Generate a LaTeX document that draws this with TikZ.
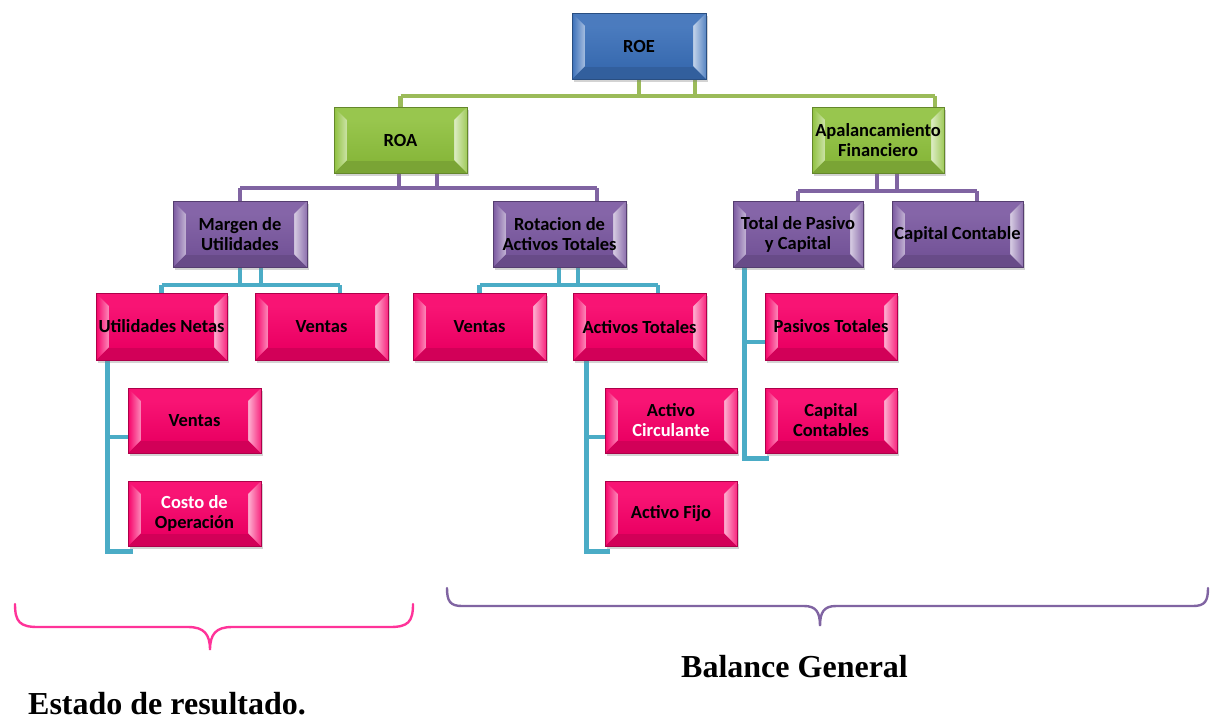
\documentclass[tikz,border=0pt]{standalone}
\usepackage{fontspec}
\setmainfont{Carlito}
\newfontfamily\tnr{Liberation Serif}
\usetikzlibrary{shadows}
\pgfdeclarelayer{bg}
\pgfsetlayers{bg,main}
\definecolor{roeblue}{HTML}{3B70B9}
\definecolor{boxgreen}{HTML}{8FC13E}
\definecolor{boxpurple}{HTML}{7A58A0}
\definecolor{boxpink}{HTML}{F70068}
\definecolor{lgreen}{HTML}{9BBB59}
\definecolor{lpurple}{HTML}{8064A2}
\definecolor{lcyan}{HTML}{4BACC6}
\definecolor{bpink}{HTML}{FF3399}
\tikzset{
  bev/.style={rectangle, minimum width=133pt, minimum height=66pt, inner sep=0pt,
    fill=#1, draw=#1!70!black, line width=0.6pt, align=center,
    font=\bfseries\fontsize{18.5}{20}\selectfont,
    drop shadow={shadow xshift=2pt, shadow yshift=-2.5pt, opacity=0.35},
    path picture={
      \coordinate (pNW) at (path picture bounding box.north west);
      \coordinate (pNE) at (path picture bounding box.north east);
      \coordinate (pSW) at (path picture bounding box.south west);
      \coordinate (pSE) at (path picture bounding box.south east);
      \coordinate (iNW) at ([shift={(13pt,-13pt)}]path picture bounding box.north west);
      \coordinate (iNE) at ([shift={(-13pt,-13pt)}]path picture bounding box.north east);
      \coordinate (iSW) at ([shift={(13pt,13pt)}]path picture bounding box.south west);
      \coordinate (iSE) at ([shift={(-13pt,13pt)}]path picture bounding box.south east);
      \fill[#1!92!white] (pNW) -- (pNE) -- (iNE) -- (iNW) -- cycle;
      \fill[#1!85!black] (pSW) -- (pSE) -- (iSE) -- (iSW) -- cycle;
      \shade[left color=#1, right color=#1!45!white] (pNW) -- (iNW) -- (iSW) -- (pSW) -- cycle;
      \shade[left color=#1!30!white, right color=#1!85!white] (iNE) -- (pNE) -- (pSE) -- (iSE) -- cycle;
      \shade[top color=#1!92!white, bottom color=#1!95!black] (iNW) rectangle (iSE);
    }},
  gcon/.style={draw=lgreen, line width=4.5pt},
  pcon/.style={draw=lpurple, line width=4.5pt},
  ccon/.style={draw=lcyan, line width=4.5pt},
  brc/.style={line width=2.4pt, line cap=round},
  lbl/.style={font=\tnr\bfseries\fontsize{32}{36}\selectfont, inner sep=0pt, anchor=base west}
}
\begin{document}
\begin{tikzpicture}[x=1pt,y=-1pt]
\useasboundingbox (0,0) rectangle (1217,721);
% bar levels
\coordinate (g1) at (0,96);
\coordinate (p1) at (0,188);
\coordinate (p2) at (0,191);
\coordinate (c1) at (0,285);

% boxes
\node[bev=roeblue, minimum width=134pt] (ROE) at (639,46) {ROE};
\node[bev=boxgreen] (ROA) at (400.5,140) {ROA};
\node[bev=boxgreen, minimum width=132pt] (AP) at (878,140) {Apalancamiento\\Financiero};
\node[bev=boxpurple, minimum width=134pt] (MU) at (240,234) {Margen de\\Utilidades};
\node[bev=boxpurple] (RAT) at (559.5,234) {Rotacion de\\Activos Totales};
\node[bev=boxpurple, minimum width=130pt] (TPC) at (798,234) {Total de Pasivo\\y Capital};
\node[bev=boxpurple, minimum width=131pt] (CC) at (957.5,234) {Capital Contable};
\node[bev=boxpink, minimum width=131pt, minimum height=67pt] (UN) at (161.5,326.5) {Utilidades Netas};
\node[bev=boxpink, minimum height=67pt] (V1) at (321.5,326.5) {Ventas};
\node[bev=boxpink, minimum height=67pt] (V2) at (479.5,327) {Ventas};
\node[bev=boxpink, minimum height=67pt] (AT) at (639.5,327) {Activos Totales};
\node[bev=boxpink, minimum height=65pt] (V3) at (194.5,420.5) {Ventas};
\node[bev=boxpink, minimum height=65pt] (CO) at (194.5,513.5) {\textcolor{white}{Costo de}\\Operación};
\node[bev=boxpink, minimum width=132pt, minimum height=65pt] (AC) at (671,420.5) {Activo\\\textcolor{white}{Circulante}};
\node[bev=boxpink, minimum width=132pt, minimum height=65pt] (AF) at (671,513.5) {Activo Fijo};
\node[bev=boxpink, minimum width=132pt, minimum height=67pt] (PT) at (831,326.5) {Pasivos Totales};
\node[bev=boxpink, minimum width=132pt, minimum height=65pt] (CCS) at (831,420.5) {Capital\\Contables};

\begin{pgfonlayer}{bg}
% green connectors
\draw[gcon] (ROE.south) -- (ROE.south |- g1);
\draw[gcon] ([xshift=56pt]ROE.south) -- ([xshift=56pt]ROE.south |- g1);
\draw[gcon] (ROA.north |- g1) -- ([xshift=57pt]AP.north |- g1);
\draw[gcon] (ROA.north |- g1) -- (ROA.north);
\draw[gcon] ([xshift=57pt]AP.north |- g1) -- ([xshift=57pt]AP.north);
% purple under ROA
\draw[pcon] ([xshift=-1.5pt]ROA.south) -- ([xshift=-1.5pt]ROA.south |- p1);
\draw[pcon] ([xshift=36.5pt]ROA.south) -- ([xshift=36.5pt]ROA.south |- p1);
\draw[pcon] (MU.north |- p1) -- ([xshift=37.5pt]RAT.north |- p1);
\draw[pcon] (MU.north |- p1) -- (MU.north);
\draw[pcon] ([xshift=37.5pt]RAT.north |- p1) -- ([xshift=37.5pt]RAT.north);
% purple under AP
\draw[pcon] ([xshift=-1pt]AP.south) -- ([xshift=-1pt]AP.south |- p2);
\draw[pcon] ([xshift=19pt]AP.south) -- ([xshift=19pt]AP.south |- p2);
\draw[pcon] (TPC.north |- p2) -- ([xshift=19.5pt]CC.north |- p2);
\draw[pcon] (TPC.north |- p2) -- (TPC.north);
\draw[pcon] ([xshift=19.5pt]CC.north |- p2) -- ([xshift=19.5pt]CC.north);
% cyan under MU
\draw[ccon] (MU.south) -- (MU.south |- c1);
\draw[ccon] ([xshift=21pt]MU.south) -- ([xshift=21pt]MU.south |- c1);
\draw[ccon] (UN.north |- c1) -- ([xshift=18.5pt]V1.north |- c1);
\draw[ccon] (UN.north |- c1) -- (UN.north);
\draw[ccon] ([xshift=18.5pt]V1.north |- c1) -- ([xshift=18.5pt]V1.north);
% cyan under RAT
\draw[ccon] ([xshift=-0.5pt]RAT.south) -- ([xshift=-0.5pt]RAT.south |- c1);
\draw[ccon] ([xshift=18.5pt]RAT.south) -- ([xshift=18.5pt]RAT.south |- c1);
\draw[ccon] (V2.north |- c1) -- ([xshift=18.5pt]AT.north |- c1);
\draw[ccon] (V2.north |- c1) -- (V2.north);
\draw[ccon] ([xshift=18.5pt]AT.north |- c1) -- ([xshift=18.5pt]AT.north);
% side connectors
\draw[ccon] ([xshift=12pt]UN.south west) |- ([yshift=-16.5pt]V3.west);
\draw[ccon] ([xshift=12pt]UN.south west) |- ([xshift=5pt,yshift=-5pt]CO.south west);
\draw[ccon] ([xshift=14pt]AT.south west) |- ([yshift=-16.5pt]AC.west);
\draw[ccon] ([xshift=14pt]AT.south west) |- ([xshift=5pt,yshift=-5pt]AF.south west);
\draw[ccon] ([xshift=12pt]TPC.south west) |- ([yshift=-15.5pt]PT.west);
\draw[ccon] ([xshift=12pt]TPC.south west) |- ([xshift=4pt,yshift=-5pt]CCS.south west);
\end{pgfonlayer}

% braces
\draw[brc, draw=bpink] (15,604) .. controls (15,622) and (20,627) .. (38,627) -- (188,627)
  .. controls (204,627) and (210,634) .. (210,650)
  .. controls (210,634) and (216,627) .. (232,627) -- (390,627)
  .. controls (408,627) and (413,622) .. (413,604);
\draw[brc, draw=lpurple] (447,588) .. controls (447,601) and (450,606) .. (462,606) -- (804,606)
  .. controls (816,606) and (820,612) .. (820,626)
  .. controls (820,612) and (824,606) .. (836,606) -- (1193,606)
  .. controls (1205,606) and (1208,601) .. (1208,588);

\node[lbl] (ER) at (28,714) {Estado de resultado.};
\node[lbl] (BG) at (681,677) {Balance General};
\end{tikzpicture}
\end{document}
